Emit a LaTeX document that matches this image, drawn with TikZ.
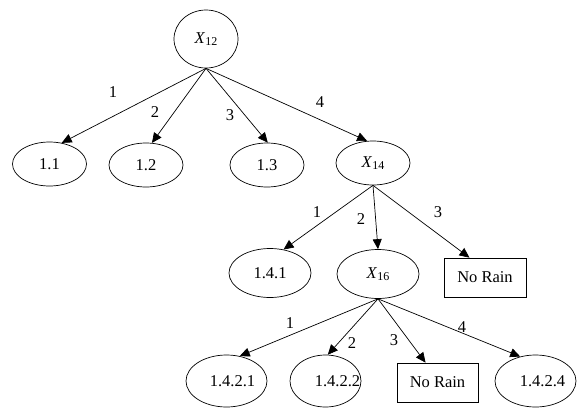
\documentclass[tikz,border=0pt]{standalone}
\usepackage{fontspec}
\setmainfont{Liberation Serif}
\usetikzlibrary{shapes.geometric,arrows.meta}
\newcommand{\offtext}[2]{\makebox[0pt][c]{\hspace{#1}#2}}
\begin{document}
\begin{tikzpicture}[x=1pt,y=-1pt,
  every node/.style={font=\fontsize{16.5}{19}\selectfont},
  oval/.style={draw,ellipse,inner sep=0pt,minimum width=74pt,minimum height=44pt,line width=0.7pt},
  bigoval/.style={oval,minimum width=82pt,minimum height=50pt},
  leafbox/.style={draw,rectangle,inner sep=0pt,minimum width=82pt,minimum height=39pt,line width=0.7pt},
  lbl/.style={inner sep=0pt},
  arr/.style={-{Triangle[length=10pt,width=9pt]},line width=0.7pt}]
\useasboundingbox (0,0) rectangle (587,418);
% nodes
\node[draw,ellipse,inner sep=0pt,minimum width=64pt,minimum height=58pt,line width=0.7pt] (x12) at (206,39) {\textit{X}\raisebox{-0.35ex}{\fontsize{12}{13}\selectfont 12}};
\node[oval] (n11) at (49.5,164) {1.1};
\node[oval] (n12) at (146,165) {1.2};
\node[oval] (n13) at (267,165) {1.3};
\node[oval] (x14) at (373,163) {\textit{X}\raisebox{-0.35ex}{\fontsize{12}{13}\selectfont 14}};
\node[bigoval,minimum height=49pt] (n141) at (270,273) {1.4.1};
\node[bigoval,minimum height=49pt] (x16) at (378,274) {\textit{X}\raisebox{-0.35ex}{\fontsize{12}{13}\selectfont 16}};
\node[leafbox] (nr1) at (485,277.5) {No Rain};
\node[bigoval,minimum width=81pt,minimum height=52pt] (n1421) at (226.5,381) {\offtext{12pt}{1.4.2.1}};
\node[bigoval,minimum width=71pt,minimum height=52pt] (n1422) at (325.5,381) {\offtext{24pt}{1.4.2.2}};
\node[leafbox,minimum width=81pt] (nr2) at (437.5,382.5) {No Rain};
\node[bigoval,minimum width=81pt,minimum height=52pt] (n1424) at (535.5,381) {\offtext{14pt}{1.4.2.4}};
% connectors
\draw[arr] (x12.south) -- (n11.60);
\draw[arr] (x12.south) -- (n12.75);
\draw[arr] (x12.south) -- (n13.88);
\draw[arr] (x12.south) -- (x14.105);
\draw[arr] (x14.south) -- (n141.60);
\draw[arr] (x14.south) -- (x16.north);
\draw[arr] (x14.south) -- (nr1.128);
\draw[arr] (x16.south) -- (n1421.62);
\draw[arr] (x16.south) -- (n1422.85);
\draw[arr] (x16.south) -- (nr2.121);
\draw[arr] (x16.south) -- (n1424.122);
% labels
\node[lbl] (l1) at (113,92) {1};
\node[lbl] (l2) at (155,112) {2};
\node[lbl] (l3) at (230,115) {3};
\node[lbl] (l4) at (320,102) {4};
\node[lbl] (m1) at (317,212) {1};
\node[lbl] (m2) at (361,219) {2};
\node[lbl] (m3) at (438,212) {3};
\node[lbl] (k1) at (290,323) {1};
\node[lbl] (k2) at (352,343) {2};
\node[lbl] (k3) at (394,340) {3};
\node[lbl] (k4) at (462,327) {4};
\end{tikzpicture}
\end{document}
